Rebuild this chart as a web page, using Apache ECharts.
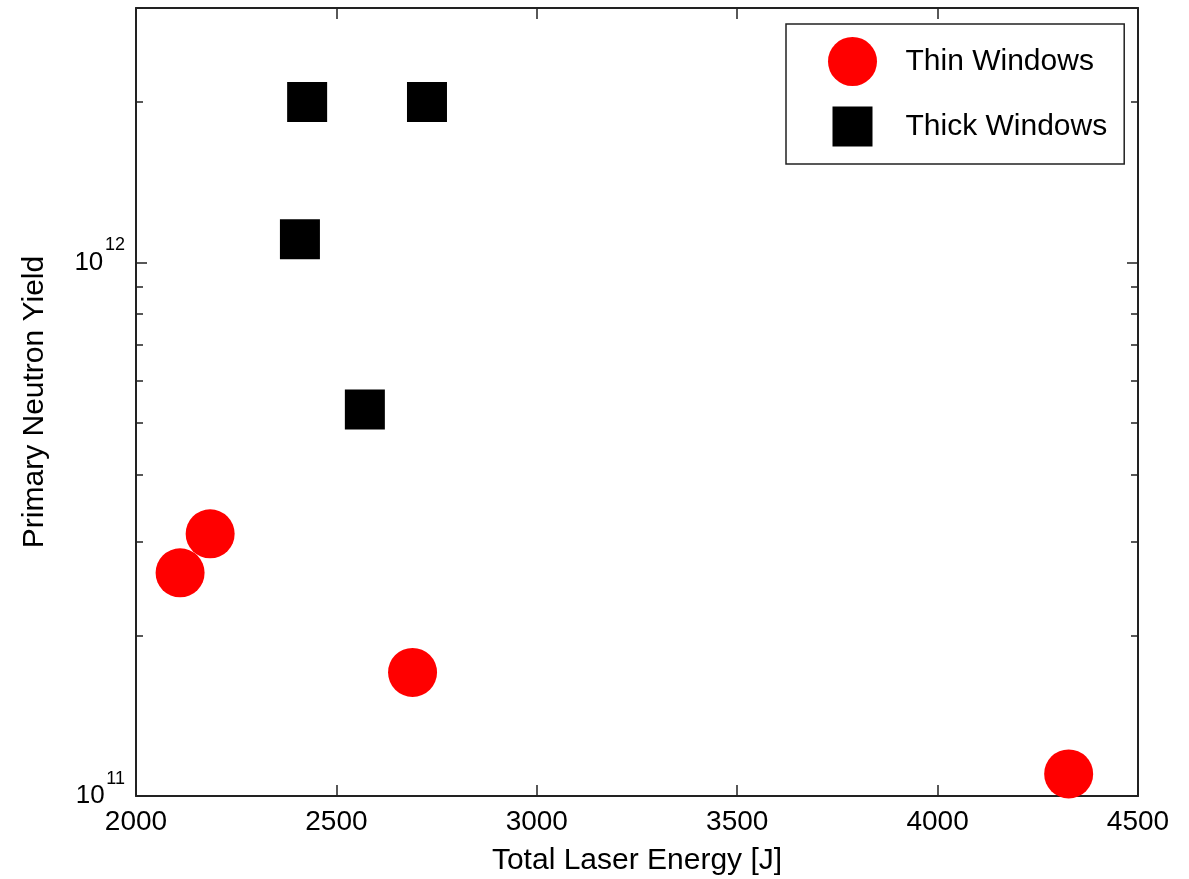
<!DOCTYPE html>
<html lang="en">
<head>
    <meta charset="UTF-8">
    <title>Primary Neutron Yield vs Total Laser Energy</title>
    <script src="https://cdn.jsdelivr.net/npm/echarts@6/dist/echarts.min.js"></script>
    <style>
        html, body { margin: 0; padding: 0; background: #fff; }
        #main_1 { width: 1189px; height: 879px; }
    </style>
</head>
<body>
<div id="main_1"></div>
<script>
    // data
    var thinEnergy = [2110, 2185, 2690, 4327];
    var thinYield = [2.62e11, 3.10e11, 1.705e11, 1.10e11];
    var thickEnergy = [2427, 2726, 2409, 2571];
    var thickYield = [2.0e12, 2.0e12, 1.106e12, 5.30e11];

    var xTicks = [2000, 2500, 3000, 3500, 4000, 4500];
    var yMajor = [1e11, 1e12];
    var yMinor = [2e11, 3e11, 4e11, 5e11, 6e11, 7e11, 8e11, 9e11, 2e12, 3e12];

    function pairs(xs, ys) {
        var out = [];
        for (var i = 0; i < xs.length; i++) out.push([xs[i], ys[i]]);
        return out;
    }

    var font = "'Liberation Sans', Arial, sans-serif";
    var lineCol = '#222';

    function powLabel(v) {
        var e = Math.round(Math.log(v) / Math.LN10);
        if (Math.abs(v - Math.pow(10, e)) / v > 1e-6) return '';
        return '{b|10}{g| }{s|' + e + '}';
    }

    function yAxisDef(pos, major, withLabel) {
        return {
            type: 'log',
            position: pos,
            min: 1e11,
            max: 3e12,
            logBase: 10,
            splitLine: {show: false},
            axisLine: {show: major, lineStyle: {color: lineCol, width: 2}},
            axisTick: {
                show: true,
                inside: true,
                length: major ? 11 : 7,
                customValues: major ? yMajor : yMinor,
                lineStyle: {color: lineCol, width: 1.5}
            },
            axisLabel: withLabel ? {
                show: true,
                margin: 11,
                fontSize: 26,
                customValues: yMajor,
                formatter: powLabel,
                rich: {
                    b: {fontSize: 26, fontFamily: font, color: '#000'},
                    g: {fontSize: 6, fontFamily: font},
                    s: {fontSize: 18, fontFamily: font, color: '#000', padding: [0, 0, 34, 0]}
                }
            } : {show: false},
            name: withLabel ? 'Primary Neutron Yield' : '',
            nameLocation: 'middle',
            nameRotate: 90,
            nameGap: 86,
            nameTextStyle: {fontSize: 30, fontFamily: font, color: '#000'}
        };
    }

    function xAxisDef(pos, withLabel) {
        return {
            type: 'value',
            position: pos,
            min: 2000,
            max: 4500,
            interval: 500,
            splitLine: {show: false},
            axisLine: {show: true, onZero: false, lineStyle: {color: lineCol, width: 2}},
            axisTick: {show: true, inside: true, length: 11, lineStyle: {color: lineCol, width: 1.5}},
            axisLabel: withLabel ? {
                show: true,
                margin: 12,
                fontSize: 28,
                fontFamily: font,
                color: '#000',
                customValues: xTicks,
                formatter: function (v) { return String(v); }
            } : {show: false},
            name: withLabel ? 'Total Laser Energy [J]' : '',
            nameLocation: 'middle',
            nameGap: 50,
            nameTextStyle: {fontSize: 30, fontFamily: font, color: '#000'}
        };
    }

    var myChart = echarts.init(document.getElementById('main_1'), null, {renderer: 'canvas'});

    var option = {
        animation: false,
        backgroundColor: '#fff',
        grid: {left: 136, right: 51, top: 8, bottom: 83, containLabel: false, outerBoundsMode: 'none'},
        legend: {
            orient: 'vertical',
            left: 786,
            top: 24,
            padding: [13, 17, 13, 42],
            itemGap: 16,
            itemWidth: 96,
            itemHeight: 49,
            borderColor: '#222',
            borderWidth: 1.5,
            backgroundColor: '#fff',
            textStyle: {fontSize: 30, fontFamily: font, color: '#000'},
            data: [
                {name: 'Thin Windows', icon: 'circle'},
                {name: 'Thick Windows', icon: 'path://M0,0 M49,49 M4.5,4.5h40v40h-40z'}
            ]
        },
        xAxis: [xAxisDef('bottom', true), xAxisDef('top', false)],
        yAxis: [
            yAxisDef('left', true, true),
            yAxisDef('left', false, false),
            yAxisDef('right', true, false),
            yAxisDef('right', false, false)
        ],
        series: [
            {
                name: 'Thin Windows',
                type: 'scatter',
                xAxisIndex: 0,
                yAxisIndex: 0,
                symbol: 'circle',
                symbolSize: 49,
                itemStyle: {color: '#ff0000', opacity: 1},
                data: pairs(thinEnergy, thinYield)
            },
            {
                name: 'Thick Windows',
                type: 'scatter',
                xAxisIndex: 0,
                yAxisIndex: 0,
                symbol: 'rect',
                symbolSize: 40,
                itemStyle: {color: '#000000', opacity: 1},
                data: pairs(thickEnergy, thickYield)
            }
        ]
    };

    myChart.setOption(option);
</script>
</body>
</html>
